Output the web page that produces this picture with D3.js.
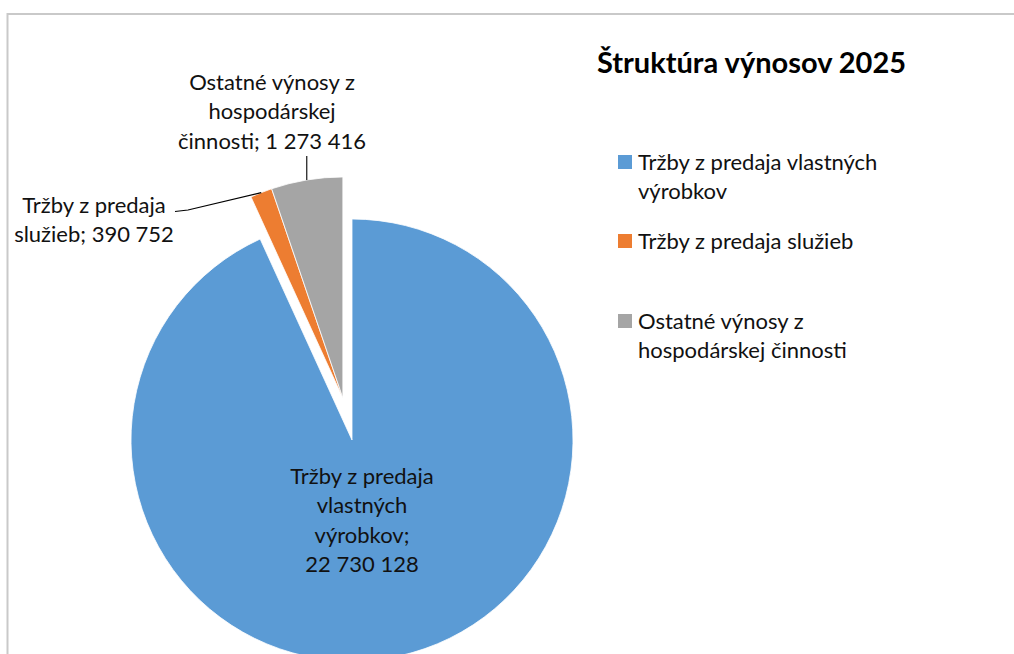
<!DOCTYPE html>
<html><head><meta charset="utf-8">
<script src="https://cdn.jsdelivr.net/npm/d3@7"></script>
<style>body{margin:0;background:#fff}svg{display:block}</style>
</head><body><svg id="c" width="1014" height="654"></svg>
<script>
// ---- data ----
const title = "Štruktúra výnosov 2025";
const categories = ["Tržby z predaja vlastných výrobkov", "Tržby z predaja služieb", "Ostatné výnosy z hospodárskej činnosti"];
const values = [22730128, 390752, 1273416];
const colors = ["#5B9BD5", "#ED7D31", "#A5A5A5"];
const exploded = [false, true, true];
const legendLines = [["Tržby z predaja vlastných", "výrobkov"], ["Tržby z predaja služieb"], ["Ostatné výnosy z", "hospodárskej činnosti"]];
const labelLines = [["Tržby z predaja", "vlastných", "výrobkov;", "{v}"], ["Tržby z predaja", "služieb; {v}"], ["Ostatné výnosy z", "hospodárskej", "činnosti; {v}"]];

// ---- layout ----
const W = 1014, H = 654;
const cx = 352, cy = 440, R = 221, explode = 43;
const font = "Lato, 'Open Sans', sans-serif";
const fs = 22, lh = 29.5;
const labelPos = [{x: 362, y: 476}, {x: 94, y: 205}, {x: 272, y: 82}];
const legendPos = {x: 618, textX: 638, ys: [162, 241, 321], sq: 14};

const fmt = d3.formatLocale({decimal: ",", thousands: " ", grouping: [3], currency: ["", " €"]}).format(",d");

const svg = d3.select("#c");
svg.append("rect").attr("width", W).attr("height", H).attr("fill", "#fff");
svg.append("path").attr("d", `M7.5,${H} V14 H${W}`).attr("fill", "none").attr("stroke", "#c9c9c9").attr("stroke-width", 2);

const pie = d3.pie().sort(null).value(d => d)(values);
const arc = d3.arc().innerRadius(0).outerRadius(R);

// common explosion direction for exploded group
const ex = pie.filter((d, i) => exploded[i]);
const exMid = (d3.min(ex, d => d.startAngle) + d3.max(ex, d => d.endAngle)) / 2;
const off = i => exploded[i] ? [explode * Math.sin(exMid), -explode * Math.cos(exMid)] : [0, 0];

const g = svg.append("g").attr("transform", `translate(${cx},${cy})`);
g.selectAll("path.s").data(pie).join("path").attr("class", "s")
  .attr("d", arc)
  .attr("transform", (d, i) => `translate(${off(i)[0]},${off(i)[1]})`)
  .attr("fill", (d, i) => colors[i])
  .attr("stroke", "#fff").attr("stroke-width", 0.8);

// leader lines: from outer arc midpoint of slice
function outerMid(i) {
  const d = pie[i], a = (d.startAngle + d.endAngle) / 2, o = off(i);
  return [cx + o[0] + R * Math.sin(a), cy + o[1] - R * Math.cos(a)];
}
const leader = d3.line();
const pO = outerMid(1), pG = outerMid(2);
svg.append("path").attr("d", leader([pO, [188, 210], [175, 211.5]])).attr("fill", "none").attr("stroke", "#000").attr("stroke-width", 1.1);
svg.append("path").attr("d", leader([pG, [pG[0], 156]])).attr("fill", "none").attr("stroke", "#000").attr("stroke-width", 1.1);

// data labels
labelLines.forEach((lines, i) => {
  const t = svg.append("text").attr("text-anchor", "middle").attr("font-family", font).attr("font-size", fs).attr("fill", "#111");
  lines.forEach((l, k) => {
    t.append("tspan").attr("x", labelPos[i].x).attr("y", labelPos[i].y + k * lh).attr("dy", "0.35em").text(l.replace("{v}", fmt(values[i])));
  });
});

// title
svg.append("text").attr("x", 597).attr("y", 63).attr("dy", "0.35em").attr("font-family", font).attr("font-weight", "bold").attr("font-size", 29).attr("fill", "#000").text(title);

// legend
categories.forEach((c, i) => {
  const y = legendPos.ys[i];
  svg.append("rect").attr("x", legendPos.x).attr("y", y - legendPos.sq / 2).attr("width", legendPos.sq).attr("height", legendPos.sq).attr("fill", colors[i]);
  const t = svg.append("text").attr("font-family", font).attr("font-size", fs).attr("fill", "#111");
  legendLines[i].forEach((l, k) => t.append("tspan").attr("x", legendPos.textX).attr("y", y + k * lh).attr("dy", "0.35em").text(l));
});
</script></body></html>
